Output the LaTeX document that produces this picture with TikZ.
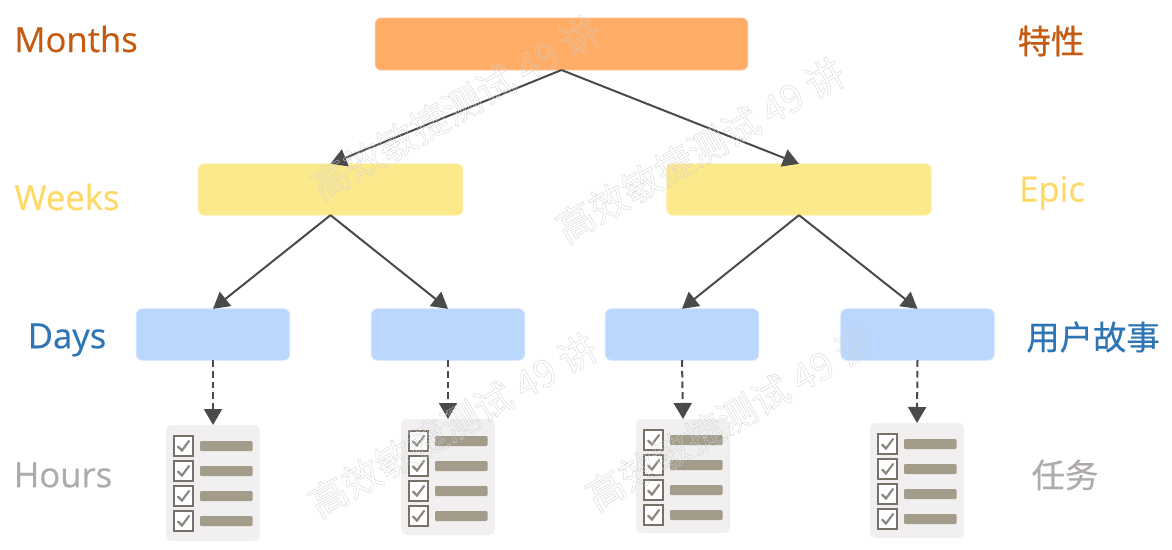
\documentclass[tikz,border=0pt]{standalone}
\usepackage{fontspec}
\setmainfont{Open Sans}[FakeBold=0.4]
\newfontfamily\cjk{Noto Sans CJK SC}
\newfontfamily\cjkbold{Noto Sans CJK SC}[FakeBold=0.5]
\newfontfamily\latinbold{Open Sans}[FakeBold=0.4]
\usetikzlibrary{arrows.meta}
\definecolor{cOrange}{HTML}{FFAD66}
\definecolor{cYellow}{HTML}{FCE98C}
\definecolor{cBlue}{HTML}{BAD8FD}
\definecolor{cCard}{HTML}{F1EFEF}
\definecolor{cBar}{HTML}{A39C8B}
\definecolor{cBoxLine}{HTML}{777168}
\definecolor{cArrow}{HTML}{4A4A4A}
\definecolor{tOrange}{HTML}{C55A11}
\definecolor{tYellow}{HTML}{FFD966}
\definecolor{tBlue}{HTML}{2E75B6}
\definecolor{tGray}{HTML}{AFABAB}
\newcommand{\outlined}[1]{\special{pdf:code 1 Tr 0.25 w 0.82 G}#1\special{pdf:code 0 Tr 0 G}}
\tikzset{
  x=0.75pt,y=-0.75pt,
  boxnode/.style={rectangle,rounded corners=4.5pt,inner sep=0pt,outer sep=0pt},
  orangebox/.style={boxnode,fill=cOrange,draw=cOrange!70!white,line width=0.6pt,minimum width=279.5pt,minimum height=39pt},
  yellowbox/.style={boxnode,fill=cYellow,draw=cYellow!70!white,line width=0.6pt,minimum width=198.5pt,minimum height=38.5pt},
  bluebox/.style={boxnode,fill=cBlue,draw=cBlue!70!white,line width=0.6pt,minimum width=115pt,minimum height=38.5pt},
  cardbox/.style={boxnode,fill=cCard,minimum width=70.5pt},
  link/.style={draw=cArrow,line width=1.5pt,-{Triangle[length=12pt,width=13.5pt]}},
  dashlink/.style={link,dash pattern=on 5pt off 3pt},
  sidelabel/.style={font=\latinbold\fontsize{26}{30}\selectfont,inner sep=0pt,anchor=center},
  cjklabel/.style={font=\cjkbold\fontsize{25}{30}\selectfont,inner sep=0pt,anchor=center},
  checkbox/.style={draw=cBoxLine,fill=white,line width=1.3pt,minimum size=14.5pt,inner sep=0pt},
  barline/.style={fill=cBar,rounded corners=0.8pt},
  mark wm/.style={font=\cjk\fontsize{28.5}{32}\selectfont,rotate=30,inner sep=0pt,anchor=center},
}
% #1 name, #2 centre x, #3 top y, #4 height, #5 first row offset
\newcommand{\taskcard}[5]{%
  \node[cardbox,minimum height=#4*0.75pt,anchor=north] (#1) at (#2,#3) {};
  \foreach \r in {0,1,2,3}{
    \pgfmathsetmacro{\ry}{#3+#5+25*\r}
    \node[checkbox] (#1box\r) at (#2-29.5,\ry) {};
    \draw[cBoxLine!85!white,line width=1.6pt,line cap=round] (#2-35,\ry+0.5) -- (#2-31,\ry+4.5) -- (#2-24,\ry-5);
    \fill[barline] (#2-13,\ry-5) rectangle (#2+39.5,\ry+5);
  }%
}
\begin{document}
\begin{tikzpicture}
\useasboundingbox (0,0) rectangle (1172,550);
\fill[white] (0,0) rectangle (1172,550);

\node[orangebox] (top) at (561.5,44) {};
\node[yellowbox] (y1) at (330.5,189.5) {};
\node[yellowbox] (y2) at (799,189.5) {};
\node[bluebox] (b1) at (213,334.5) {};
\node[bluebox] (b2) at (448,334.5) {};
\node[bluebox] (b3) at (682,334.5) {};
\node[bluebox] (b4) at (917.5,334.5) {};

\taskcard{c1}{213}{425}{116}{21}
\taskcard{c2}{448}{419}{116}{22}
\taskcard{c3}{683}{419}{114}{21}
\taskcard{c4}{917}{423}{115}{21}

\draw[link] (top.south) -- (y1.north);
\draw[link] (top.south) -- (y2.north);
\draw[link] (y1.south) -- (b1.north);
\draw[link] (y1.south) -- (b2.north);
\draw[link] (y2.south) -- (b3.north);
\draw[link] (y2.south) -- (b4.north);
\draw[dashlink] (b1.south) -- (c1.north);
\draw[dashlink] (b2.south) -- (c2.north);
\draw[dashlink] (b3.south) -- (c3.north);
\draw[dashlink] (b4.south) -- (c4.north);

\node[mark wm] (w1) at (455,108) {\outlined{高效敏捷测试 49 讲}};
\node[mark wm] (w2) at (700,150) {\outlined{高效敏捷测试 49 讲}};
\node[mark wm] (w3) at (453,425) {\outlined{高效敏捷测试 49 讲}};
\node[mark wm] (w4) at (730,418) {\outlined{高效敏捷测试 49 讲}};

\node[sidelabel,text=tOrange] (lm) at (76,39) {Months};
\node[sidelabel,text=tYellow] (lw) at (67,197) {Weeks};
\node[sidelabel,text=tBlue] (ld) at (67,340) {Days};
\node[sidelabel,text=tGray] (lh) at (63,475) {Hours};
\node[cjklabel,text=tOrange] (rf) at (1051,41) {特性};
\node[sidelabel,text=tYellow] (re) at (1052,193) {Epic};
\node[cjklabel,text=tBlue] (ru) at (1093,337) {用户故事};
\node[cjklabel,text=tGray] (rt) at (1065,475) {任务};
\end{tikzpicture}
\end{document}
